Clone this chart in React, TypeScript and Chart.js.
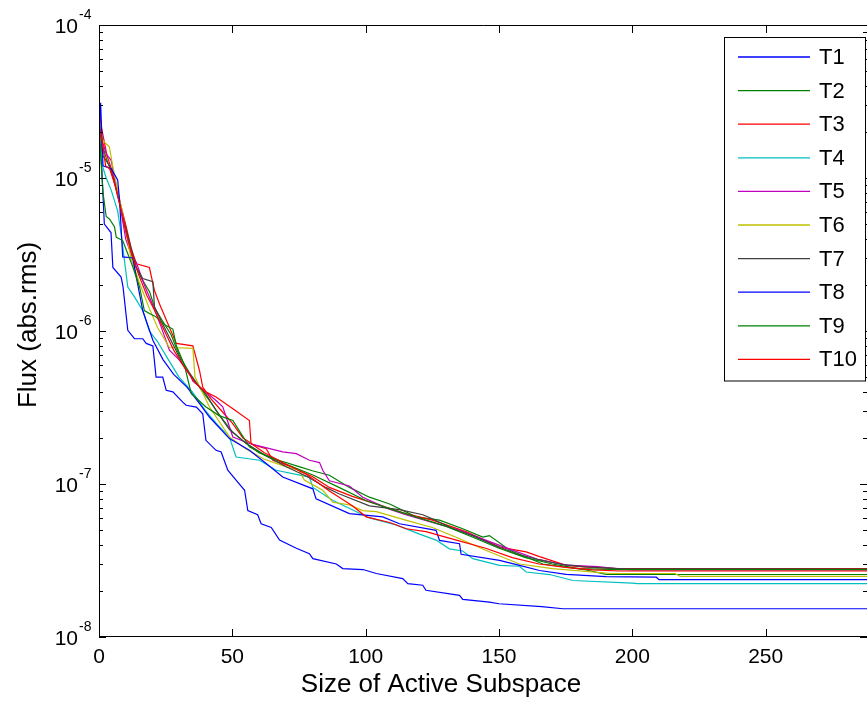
import React, { useEffect, useRef } from "react";
import { Chart, registerables } from "chart.js";
Chart.register(...registerables);

const seriesNames = ["T1", "T2", "T3", "T4", "T5", "T6", "T7", "T8", "T9", "T10"];
const seriesColors = ["#0000ff", "#008000", "#ff0000", "#00bfbf", "#bf00bf", "#bfbf00", "#404040", "#0000ff", "#008000", "#ff0000"];
const xTicks = [0, 50, 100, 150, 200, 250];
const yDecades = [-8, -7, -6, -5, -4];
const xTitle = "Size of Active Subspace";
const yTitle = "Flux (abs.rms)";

const T1 = [[0,2.2e-5],[1,1.2e-5],[2,5.0e-6],[4.5,4.4e-6],[5.2,2.6e-6],[8.3,2.25e-6],[9,1.95e-6],[10.8,1.01e-6],[13.3,8.9e-7],[16.4,8.9e-7],[17.7,8.3e-7],[20.2,8.0e-7],[21.4,5.0e-7],[23.9,5.0e-7],[25.2,4.1e-7],[27.7,4.0e-7],[31.4,3.43e-7],[32.7,3.27e-7],[36.5,3.18e-7],[38.9,2.88e-7],[40.1,1.93e-7],[43.9,1.66e-7],[45.8,1.62e-7],[48.3,1.23e-7],[51.4,1.06e-7],[54.6,9.1e-8],[55.8,6.7e-8],[59.5,6.3e-8],[60.8,5.5e-8],[64.6,5.2e-8],[67.7,4.3e-8],[74,3.8e-8],[78.9,3.5e-8],[80.2,3.25e-8],[89,3.0e-8],[91.4,2.8e-8],[99,2.76e-8],[104,2.6e-8],[113.9,2.41e-8],[115.8,2.23e-8],[121.4,2.18e-8],[122.6,2.02e-8],[135.2,1.87e-8],[136.4,1.76e-8],[146.4,1.69e-8],[150,1.65e-8],[166,1.58e-8],[174,1.53e-8],[300,1.53e-8]];
const T2 = [[0,2.6e-5],[1,1.7e-5],[3,1.3e-5],[5,1.05e-5],[7,8e-6],[9,5.5e-6],[11,3.8e-6],[13,2.8e-6],[16,2.2e-6],[19,1.8e-6],[21,1.4e-6],[24,1.15e-6],[27,9.5e-7],[30,7e-7],[34,5.3e-7],[38,4.2e-7],[42,3.4e-7],[46,2.7e-7],[50,2.2e-7],[55,1.85e-7],[60,1.6e-7],[68,1.42e-7],[75,1.3e-7],[80,1.22e-7],[86.4,1.14e-7],[93.9,9.5e-8],[101.4,8.2e-8],[109,7.4e-8],[118.9,6.1e-8],[127.7,5.8e-8],[136.4,5.1e-8],[143.9,4.5e-8],[146.4,4.6e-8],[153.9,3.7e-8],[166.4,3.0e-8],[182.7,2.74e-8],[190.2,2.57e-8],[300,2.56e-8]];
const T3 = [[0,2.8e-5],[1,2.1e-5],[3,1.4e-5],[5,1.1e-5],[7,8e-6],[10.2,4.8e-6],[12,3.5e-6],[14,2.75e-6],[18.9,2.6e-6],[20.8,1.84e-6],[22.7,1.5e-6],[26,1.1e-6],[29,8.3e-7],[35.2,8.0e-7],[37.7,5.5e-7],[38.9,4.3e-7],[42,3.6e-7],[46,3.0e-7],[50,2.5e-7],[54,2.0e-7],[58,1.8e-7],[62.7,1.7e-7],[65.2,1.43e-7],[72,1.3e-7],[80,1.12e-7],[86.4,9.5e-8],[95,8.3e-8],[105,7.3e-8],[115,6.4e-8],[125,5.8e-8],[137.6,4.88e-8],[150.2,3.87e-8],[160.2,3.6e-8],[165.2,3.35e-8],[175.2,2.94e-8],[181.4,2.87e-8],[193.9,2.8e-8],[300,2.8e-8]];
const T4 = [[0,2.5e-5],[0.8,1.6e-5],[1.4,1.18e-5],[2.7,1.0e-5],[4.6,8.3e-6],[7,6.1e-6],[8.3,4.3e-6],[10.8,1.94e-6],[13.3,1.67e-6],[16.4,1.36e-6],[18.9,1.0e-6],[22,8.5e-7],[26,6.5e-7],[30,5.0e-7],[35,4.0e-7],[40,3.0e-7],[43.9,2.5e-7],[48.9,2.03e-7],[51.4,1.5e-7],[60.2,1.43e-7],[66.4,1.23e-7],[78.9,1.11e-7],[80.2,9.5e-8],[87.7,7.8e-8],[98.9,6.3e-8],[101.4,6.0e-8],[111.4,5.4e-8],[120.2,4.7e-8],[126.4,4.3e-8],[131.4,3.77e-8],[136.4,3.65e-8],[140.2,3.25e-8],[150.2,2.94e-8],[157.7,2.9e-8],[160.2,2.66e-8],[169,2.56e-8],[177.7,2.34e-8],[200,2.25e-8],[202,2.23e-8],[300,2.23e-8]];
const T5 = [[0,2.6e-5],[1,1.8e-5],[2.7,1.44e-5],[4.6,1.3e-5],[5.8,1.0e-5],[8,6.5e-6],[10,4.0e-6],[12,3.2e-6],[14,2.8e-6],[17,2.0e-6],[20,1.5e-6],[23,1.1e-6],[26.4,7.5e-7],[30,6.5e-7],[33.9,5.3e-7],[35.2,4.7e-7],[40,4.0e-7],[44,3.5e-7],[46.4,3.2e-7],[47.7,2.74e-7],[50.2,2.03e-7],[56.4,1.84e-7],[61.4,1.75e-7],[68.9,1.62e-7],[74,1.58e-7],[78.9,1.43e-7],[82.7,1.38e-7],[83.9,1.23e-7],[86.4,1.05e-7],[93.9,9.7e-8],[98.9,8.2e-8],[108.3,6.9e-8],[115,6.3e-8],[125,5.6e-8],[135,5.0e-8],[145,4.3e-8],[155,3.7e-8],[165,3.2e-8],[175,2.95e-8],[187,2.88e-8],[194,2.8e-8],[200,2.75e-8],[300,2.75e-8]];
const T6 = [[0,2.4e-5],[1.4,1.75e-5],[3.9,1.6e-5],[5.2,1.18e-5],[8.3,6.5e-6],[9.6,5.0e-6],[12,3.0e-6],[15,2.1e-6],[18.9,1.4e-6],[22,1.05e-6],[26.4,7.8e-7],[35.2,7.7e-7],[36,5.0e-7],[41.4,3.2e-7],[48.9,2.03e-7],[55,1.7e-7],[62,1.45e-7],[70,1.3e-7],[75,1.23e-7],[77,1.06e-7],[83.9,9.1e-8],[87.7,7.6e-8],[93.9,7.3e-8],[98.9,6.7e-8],[104,6.6e-8],[115,5.8e-8],[125,5.2e-8],[135,4.4e-8],[145,3.69e-8],[157.7,3.0e-8],[170,2.8e-8],[192,2.6e-8],[216,2.6e-8],[218,2.49e-8],[300,2.49e-8]];
const T7 = [[0,2.5e-5],[1.4,1.4e-5],[4,1.2e-5],[6,9e-6],[9,5.5e-6],[12,3.5e-6],[14,2.6e-6],[16.4,2.2e-6],[20.2,2.1e-6],[20.8,1.44e-6],[24,1.1e-6],[28,8.0e-7],[32,5.8e-7],[37.7,4.3e-7],[40,3.9e-7],[44,3.0e-7],[48.9,2.27e-7],[55,1.85e-7],[62,1.55e-7],[70,1.3e-7],[78,1.12e-7],[85,9.5e-8],[90.2,8.6e-8],[101.4,7.2e-8],[112.7,6.8e-8],[121.4,6.3e-8],[125.2,5.9e-8],[128.9,5.5e-8],[132.7,5.1e-8],[140,4.6e-8],[148,4.0e-8],[156.4,3.5e-8],[165,3.2e-8],[172.7,3.0e-8],[182.7,2.87e-8],[195,2.8e-8],[300,2.78e-8]];
const T8 = [[0,2.0e-5],[0.6,3.1e-5],[1.5,1.2e-5],[4.6,1.15e-5],[7,9.7e-6],[7.7,7.2e-6],[8.9,3.05e-6],[12.7,3.0e-6],[13.5,2.5e-6],[16.4,1.36e-6],[20.2,8.7e-7],[24,6.5e-7],[28,5.2e-7],[33,4.3e-7],[38,3.3e-7],[41.4,2.74e-7],[48.9,1.98e-7],[56.4,1.66e-7],[62.7,1.36e-7],[68.9,1.11e-7],[80.2,9.3e-8],[81.4,8.0e-8],[93.9,6.4e-8],[106.4,6.1e-8],[112.7,5.5e-8],[126.4,4.98e-8],[127.7,4.28e-8],[135.2,4.07e-8],[135.8,3.47e-8],[150.2,3.17e-8],[157.7,2.94e-8],[165.2,2.72e-8],[175.2,2.57e-8],[190.2,2.48e-8],[209,2.46e-8],[210,2.37e-8],[300,2.37e-8]];
const T9 = [[0,2.05e-5],[1.5,8e-6],[2.7,5.6e-6],[3.9,5.4e-6],[5.8,4.8e-6],[6.5,4.1e-6],[8.9,3.9e-6],[12.7,2.62e-6],[15.2,1.94e-6],[17,1.36e-6],[18.9,1.3e-6],[21,1.25e-6],[24.6,1.1e-6],[27.7,1.03e-6],[29,8.0e-7],[32,6e-7],[34.6,3.9e-7],[40,3.2e-7],[45,2.8e-7],[50.2,2.6e-7],[56.4,1.75e-7],[62,1.55e-7],[70,1.35e-7],[80,1.15e-7],[90,9.5e-8],[100,7.8e-8],[110,6.8e-8],[120,6.0e-8],[130,5.3e-8],[140,4.5e-8],[150,3.8e-8],[160,3.3e-8],[170,3.0e-8],[180,2.8e-8],[195,2.76e-8],[300,2.76e-8]];
const T10 = [[0,2.2e-5],[1,1.8e-5],[2.5,1.2e-5],[4,1.15e-5],[6,9e-6],[8,6.5e-6],[10,4.5e-6],[12,3.3e-6],[15,2.3e-6],[18,1.7e-6],[21,1.35e-6],[24,1.05e-6],[28,7.5e-7],[32,5.8e-7],[36,4.6e-7],[40,4.0e-7],[43.9,3.7e-7],[51.4,3.0e-7],[56.4,2.6e-7],[57,1.84e-7],[62,1.6e-7],[70,1.35e-7],[78,1.15e-7],[86.4,9.0e-8],[95,7.2e-8],[100.2,6.1e-8],[109,5.6e-8],[115.2,5.1e-8],[122.6,4.88e-8],[134,4.3e-8],[145,3.8e-8],[155,3.3e-8],[165,3.0e-8],[175,2.85e-8],[185,2.75e-8],[195,2.7e-8],[300,2.7e-8]];
const seriesData = [T1, T2, T3, T4, T5, T6, T7, T8, T9, T10];

const FONT = '"Liberation Sans", Arial, Helvetica, sans-serif';

const matlabAxes = {
  id: "matlabAxes",
  afterDraw(chart: any) {
    const { ctx, chartArea: a, scales } = chart;
    const xs = scales.x;
    const ys = scales.y;
    ctx.save();
    ctx.strokeStyle = "#000";
    ctx.lineWidth = 1;
    ctx.beginPath();
    ctx.moveTo(a.left + 0.5, a.top + 0.5);
    ctx.lineTo(a.left + 0.5, a.bottom - 0.5);
    ctx.lineTo(a.right, a.bottom - 0.5);
    ctx.moveTo(a.left + 0.5, a.top + 0.5);
    ctx.lineTo(a.right, a.top + 0.5);
    ctx.stroke();
    ctx.beginPath();
    xTicks.forEach((v) => {
      const px = Math.round(xs.getPixelForValue(v)) + 0.5;
      ctx.moveTo(px, a.bottom);
      ctx.lineTo(px, a.bottom - 8);
      ctx.moveTo(px, a.top);
      ctx.lineTo(px, a.top + 8);
    });
    yDecades.forEach((d) => {
      for (let k = 1; k <= 9; k++) {
        if (d === -4 && k > 1) break;
        const py = Math.round(ys.getPixelForValue(k * Math.pow(10, d))) + 0.5;
        const len = k === 1 ? 7 : 4;
        ctx.moveTo(a.left, py);
        ctx.lineTo(a.left + len, py);
        ctx.moveTo(a.right, py);
        ctx.lineTo(a.right - len, py);
      }
    });
    ctx.stroke();
    ctx.fillStyle = "#000";
    ctx.font = `21px ${FONT}`;
    ctx.textAlign = "center";
    ctx.textBaseline = "alphabetic";
    xTicks.forEach((v) => {
      ctx.fillText(String(v), xs.getPixelForValue(v), a.bottom + 26);
    });
    yDecades.forEach((d) => {
      const py = ys.getPixelForValue(Math.pow(10, d));
      ctx.font = `21px ${FONT}`;
      ctx.textAlign = "right";
      ctx.fillText("10", 78, py + 7.5);
      ctx.font = `14px ${FONT}`;
      ctx.textAlign = "left";
      ctx.fillText(String(d), 79, py - 6);
    });
    ctx.font = `26px ${FONT}`;
    ctx.textAlign = "center";
    ctx.fillText(xTitle, 441, 692);
    ctx.save();
    ctx.translate(36, 325);
    ctx.rotate(-Math.PI / 2);
    ctx.fillText(yTitle, 0, 0);
    ctx.restore();
    const lx = 724.5, ly = 37.5, lw = 141, lh = 343.5;
    ctx.fillStyle = "#fff";
    ctx.fillRect(lx, ly, lw, lh);
    ctx.strokeStyle = "#000";
    ctx.lineWidth = 1;
    ctx.strokeRect(lx, ly, lw, lh);
    ctx.font = `22px ${FONT}`;
    ctx.textAlign = "left";
    ctx.textBaseline = "middle";
    chart.data.datasets.forEach((ds: any, i: number) => {
      const y = 57 + 33.6 * i;
      ctx.strokeStyle = seriesColors[i];
      ctx.lineWidth = 1.3;
      ctx.beginPath();
      ctx.moveTo(738, y);
      ctx.lineTo(810, y);
      ctx.stroke();
      ctx.fillStyle = "#000";
      ctx.fillText(ds.label, 819, y + 1);
    });
    ctx.restore();
  },
};

export default function App() {
  const ref = useRef<HTMLCanvasElement>(null);
  useEffect(() => {
    document.body.style.margin = "0";
    const chart = new Chart(ref.current as HTMLCanvasElement, {
      type: "line",
      data: {
        datasets: seriesData.map((s, i) => ({
          label: seriesNames[i],
          data: s.map(([x, y]) => ({ x, y })),
          borderColor: seriesColors[i],
          backgroundColor: seriesColors[i],
          borderWidth: 1.2,
          pointRadius: 0,
          tension: 0,
          fill: false,
          order: 10 - i,
        })),
      },
      options: {
        responsive: false,
        animation: false,
        layout: { padding: { left: 99, top: 25, right: 0, bottom: 73 } },
        plugins: { legend: { display: false }, tooltip: { enabled: false }, title: { display: false } },
        scales: {
          x: { type: "linear", min: 0, max: 288, display: false },
          y: { type: "logarithmic", min: 1e-8, max: 1e-4, display: false },
        },
      },
      plugins: [matlabAxes],
    });
    return () => chart.destroy();
  }, []);
  return (
    <div style={{ width: 867, height: 710 }}>
      <canvas ref={ref} width={867} height={710} style={{ display: "block" }} />
    </div>
  );
}
